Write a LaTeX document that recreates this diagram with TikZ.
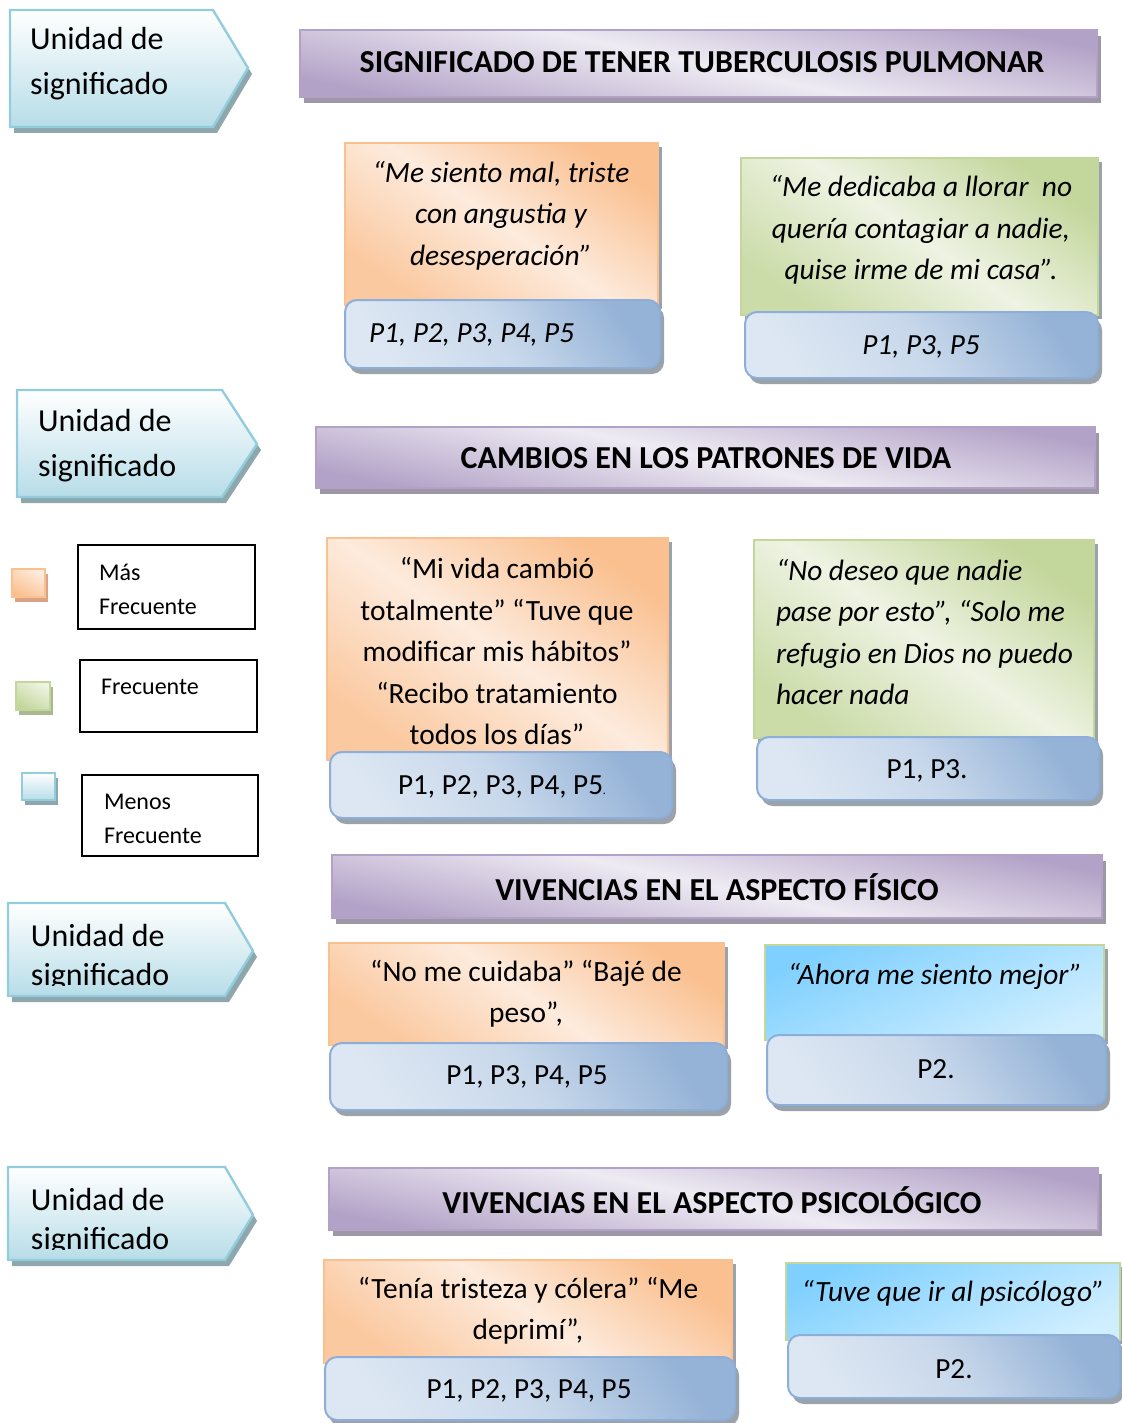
\documentclass[tikz,border=0pt]{standalone}
\usepackage{fontspec}
\setmainfont{Carlito}
\usetikzlibrary{shadows}

\definecolor{flechaborde}{HTML}{93CDDD}
\definecolor{flechafondo}{HTML}{B7DDE8}
\definecolor{flechasombra}{HTML}{8DA7AD}
\definecolor{lilaoscuro}{HTML}{B3A2C7}
\definecolor{lilaclaro}{HTML}{EEEBF3}
\definecolor{lilasombra}{HTML}{9E97A8}
\definecolor{naranja}{HTML}{FAC090}
\definecolor{naranjaclaro}{HTML}{FDEBDD}
\definecolor{naranjasombra}{HTML}{D9A384}
\definecolor{verde}{HTML}{C3D69B}
\definecolor{verdeclaro}{HTML}{EEF3E3}
\definecolor{verdesombra}{HTML}{A9B98F}
\definecolor{celeste}{HTML}{7FD0FF}
\definecolor{celesteclaro}{HTML}{CFEEFF}
\definecolor{azul}{HTML}{95B3D7}
\definecolor{azulclaro}{HTML}{DDE7F3}
\definecolor{azulborde}{HTML}{8EAEDA}
\definecolor{gris}{HTML}{9AA2AC}

\begin{document}
\begin{tikzpicture}[x=0.5pt,y=-0.5pt]
\tikzstyle{every node}=[inner sep=0pt,outer sep=0pt]
\tikzstyle{flecha}=[draw=flechaborde,line width=1.2pt,top color=white,bottom color=flechafondo,
  general shadow={fill=flechasombra,shadow xshift=2pt,shadow yshift=-3pt}]
\tikzstyle{titulo}=[draw=lilaoscuro,line width=1pt,top color=lilaoscuro,bottom color=lilaoscuro,middle color=lilaclaro,shading angle=-12,
  general shadow={fill=lilasombra,shadow xshift=2pt,shadow yshift=-3pt}]
\tikzstyle{naranjo}=[draw=naranja,line width=0.8pt,top color=naranja,bottom color=naranja!80!naranjaclaro,middle color=naranjaclaro,shading angle=-35,
  general shadow={fill=gris,shadow xshift=2pt,shadow yshift=-2pt}]
\tikzstyle{verdoso}=[draw=verde,line width=0.8pt,top color=verde,bottom color=verde!80!verdeclaro,middle color=verdeclaro,shading angle=-35,
  general shadow={fill=gris,shadow xshift=2pt,shadow yshift=-2pt}]
\tikzstyle{celestino}=[draw=verde,line width=0.8pt,top color=celeste,bottom color=celesteclaro,shading angle=25,
  general shadow={fill=gris,shadow xshift=2pt,shadow yshift=-2pt}]
\tikzstyle{pbox}=[draw=azulborde,line width=1pt,rounded corners=6pt,top color=azul,bottom color=azulclaro,middle color=azulclaro!70!azul,shading angle=-55,
  general shadow={fill=gris,shadow xshift=2pt,shadow yshift=-3pt}]
\tikzstyle{leyenda}=[draw=black,line width=0.8pt,fill=white]
\tikzstyle{uni}=[anchor=west,align=left,font=\fontsize{16}{22.5}\selectfont]
\tikzstyle{unicorta}=[anchor=west,align=left,font=\fontsize{16}{19.5}\selectfont]
\tikzstyle{tit}=[font=\bfseries\fontsize{16}{19}\selectfont]
\tikzstyle{cita}=[align=center,font=\fontsize{14.7}{20.75}\selectfont]
\tikzstyle{citai}=[align=center,font=\fontsize{14.7}{20.75}\selectfont\itshape]
\tikzstyle{pe}=[font=\fontsize{14.6}{17}\selectfont]
\tikzstyle{pei}=[font=\fontsize{14.6}{17}\selectfont\itshape]
\tikzstyle{ley}=[anchor=west,align=left,font=\fontsize{12}{17}\selectfont]

\useasboundingbox (0,0) rectangle (1122,1423);

% unidades de significado
\path[flecha] (10,10) -- (213,10) -- (248,68) -- (213,127) -- (10,127) -- cycle;
\node[uni] (u1) at (30,64) {Unidad de\\significado};
\path[flecha] (17,390) -- (222,390) -- (257,444) -- (222,497) -- (17,497) -- cycle;
\node[uni] (u2) at (38,446) {Unidad de\\significado};
\path[flecha] (8,903) -- (225,903) -- (253,951) -- (225,996) -- (8,996) -- cycle;
\begin{scope}
\clip (8,903) rectangle (253,985);
\node[unicorta] (u3) at (31,958) {Unidad de\\significado};
\end{scope}
\path[flecha] (8,1167) -- (225,1167) -- (253,1215) -- (225,1260) -- (8,1260) -- cycle;
\begin{scope}
\clip (8,1167) rectangle (253,1249);
\node[unicorta] (u4) at (31,1222) {Unidad de\\significado};
\end{scope}

% titulos
\path[titulo] (300,30) rectangle (1097,97);
\node[tit] (t1) at (702,62) {SIGNIFICADO DE TENER TUBERCULOSIS PULMONAR};
\path[titulo] (316,427) rectangle (1095,488);
\node[tit] (t2) at (706,458) {CAMBIOS EN LOS PATRONES DE VIDA};
\path[titulo] (332,855) rectangle (1102,918);
\node[tit] (t3) at (717,887) {VIVENCIAS EN EL ASPECTO FÍSICO};
\path[titulo] (329,1168) rectangle (1098,1230);
\node[tit] (t4) at (712,1200) {VIVENCIAS EN EL ASPECTO PSICOLÓGICO};

% bloque 1
\path[naranjo] (345,143) rectangle (658,305);
\node[citai] (c1) at (501,215.5) {“Me siento mal, triste\\con angustia y\\desesperación”};
\path[pbox] (345,300) rectangle (660,368);
\node[pei,anchor=west] (p1) at (369,335) {P1, P2, P3, P4, P5};
\path[verdoso] (741,158) rectangle (1098,315);
\node[citai] (c2) at (921,230) {“Me dedicaba a llorar\ \ no\\quería contagiar a nadie,\\quise irme de mi casa”.};
\path[pbox] (745,312) rectangle (1098,378);
\node[pei] (p2) at (921,347) {P1, P3, P5};

% bloque 2
\path[naranjo] (327,538) rectangle (668,760);
\node[cita] (c3) at (497,651) {“Mi vida cambió\\totalmente” “Tuve que\\modificar mis hábitos”\\“Recibo tratamiento\\todos los días”};
\path[pbox] (330,752) rectangle (672,818);
\node[pe] (p3) at (502,787) {P1, P2, P3, P4, P5{\fontsize{6}{7}\selectfont.}};
\path[verdoso] (754,540) rectangle (1094,738);
\node[citai,align=left,anchor=west] (c4) at (776,632) {“No deseo que nadie\\pase por esto”, “Solo me\\refugio en Dios no puedo\\hacer nada};
\path[pbox] (757,737) rectangle (1099,800);
\node[pe] (p4) at (927,771) {P1, P3.};

% bloque 3
\path[naranjo] (329,943) rectangle (724,1045);
\node[cita] (c5) at (526,994) {“No me cuidaba” “Bajé de\\peso”,};
\path[pbox] (330,1043) rectangle (727,1110);
\node[pe] (p5) at (527,1077) {P1, P3, P4, P5};
\path[celestino] (765,945) rectangle (1104,1040);
\node[citai] (c6) at (935,976) {“Ahora me siento mejor”};
\path[pbox] (767,1035) rectangle (1106,1105);
\node[pe] (p6) at (936,1069) {P2.};

% bloque 4
\path[naranjo] (324,1260) rectangle (732,1363);
\node[cita] (c7) at (528,1311) {“Tenía tristeza y cólera” “Me\\deprimí”,};
\path[pbox] (325,1357) rectangle (735,1420);
\node[pe] (p7) at (529,1391) {P1, P2, P3, P4, P5};
\path[celestino] (786,1263) rectangle (1120,1340);
\node[citai] (c8) at (953,1293) {“Tuve que ir al psicólogo”};
\path[pbox] (788,1335) rectangle (1120,1398);
\node[pe] (p8) at (954,1369) {P2.};

% leyenda
\path[draw=naranja,line width=0.8pt,top color=naranjaclaro,bottom color=naranja,shading angle=-30,
  general shadow={fill=naranjasombra,shadow xshift=1.5pt,shadow yshift=-2.5pt}] (12,569) rectangle (45,597);
\path[draw=verde,line width=0.8pt,top color=verdeclaro,bottom color=verde,shading angle=-30,
  general shadow={fill=verdesombra,shadow xshift=1.5pt,shadow yshift=-2.5pt}] (16,682) rectangle (50,710);
\path[draw=flechaborde,line width=0.8pt,top color=white,bottom color=flechafondo,
  general shadow={fill=flechasombra,shadow xshift=1.5pt,shadow yshift=-2.5pt}] (22,773) rectangle (55,800);
\path[leyenda] (78,545) rectangle (255,629);
\node[ley] (l1) at (99,589) {Más\\Frecuente};
\path[leyenda] (80,660) rectangle (257,732);
\node[ley] (l2) at (101,687) {Frecuente};
\path[leyenda] (82,775) rectangle (258,856);
\node[ley] (l3) at (104,818.5) {Menos\\Frecuente};
\end{tikzpicture}
\end{document}
